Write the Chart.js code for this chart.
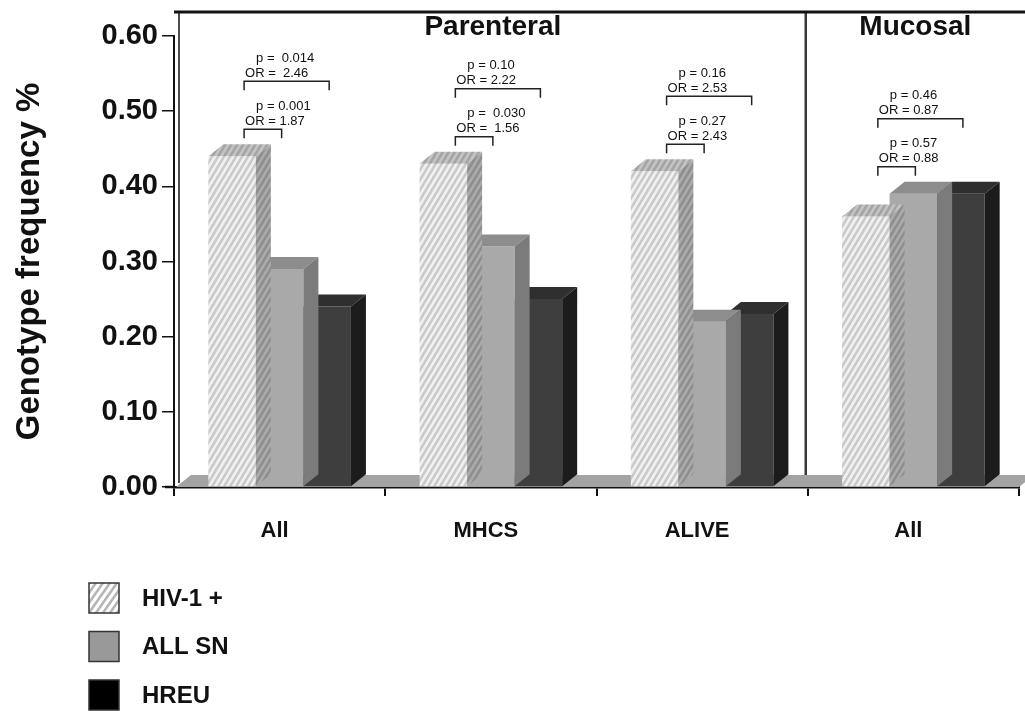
<!DOCTYPE html>
<html>
<head>
<meta charset="utf-8">
<script src="https://cdn.jsdelivr.net/npm/chart.js@4.4.0/dist/chart.umd.min.js"></script>
<style>
    html, body { margin: 0; padding: 0; background: #fff; }
    #wrap { width: 1025px; height: 711px; }
</style>
</head>
<body>
<div id="wrap"><canvas id="genotypeChart" width="1025" height="711"></canvas></div>
<script>
const categories = ['All', 'MHCS', 'ALIVE', 'All'];
const seriesNames = ['HIV-1 +', 'ALL SN', 'HREU'];
const hivPositive = [0.44, 0.43, 0.42, 0.36];
const allSn = [0.29, 0.32, 0.22, 0.39];
const hreu = [0.24, 0.25, 0.23, 0.39];
const yTicks = [0, 0.1, 0.2, 0.3, 0.4, 0.5, 0.6];

// panel name, first category, last category
const panels = [['Parenteral', 0, 2], ['Mucosal', 3, 3]];

// category, from series, to series, p, OR
const nearComparisons = [
    [0, 0, 1, 'p = 0.001', 'OR = 1.87'],
    [1, 0, 1, 'p =  0.030', 'OR =  1.56'],
    [2, 0, 1, 'p = 0.27', 'OR = 2.43'],
    [3, 0, 1, 'p = 0.57', 'OR = 0.88']
];
const farComparisons = [
    [0, 0, 2, 'p =  0.014', 'OR =  2.46'],
    [1, 0, 2, 'p = 0.10', 'OR = 2.22'],
    [2, 0, 2, 'p = 0.16', 'OR = 2.53'],
    [3, 0, 2, 'p = 0.46', 'OR = 0.87']
];

const FONT = '"Liberation Sans", Arial, sans-serif';
Chart.defaults.font.family = FONT;
Chart.defaults.color = '#111';

const DX = 15, DY = 12;

const canvas = document.getElementById('genotypeChart');
const ctx = canvas.getContext('2d');

function hatch(bg, line, w, h, lw) {
    const c = document.createElement('canvas');
    c.width = w; c.height = h;
    const g = c.getContext('2d');
    g.fillStyle = bg;
    g.fillRect(0, 0, w, h);
    g.strokeStyle = line;
    g.lineWidth = lw;
    g.beginPath();
    for (let n = 0; n <= 2; n++) {
        g.moveTo(-w, n * h + h);
        g.lineTo(2 * w, n * h - 2 * h);
    }
    g.stroke();
    return ctx.createPattern(c, 'repeat');
}

const faces = [
    { front: hatch('#f1f1f1', '#c9c9c9', 6, 10, 2.5), top: hatch('#c4c4c4', '#a4a4a4', 6, 10, 2.5), side: hatch('#ababab', '#8e8e8e', 6, 10, 2.5) },
    { front: '#a9a9a9', top: '#8d8d8d', side: '#7b7b7b' },
    { front: '#3e3e3e', top: '#2f2f2f', side: '#1c1c1c' }
];

function poly(c, pts, fill) {
    c.beginPath();
    c.moveTo(pts[0][0], pts[0][1]);
    for (let i = 1; i < pts.length; i++) c.lineTo(pts[i][0], pts[i][1]);
    c.closePath();
    c.fillStyle = fill;
    c.fill();
}

function barAt(chart, cat, series) {
    return chart.getDatasetMeta(series).data[cat].getProps(['x', 'y', 'base', 'width'], true);
}

const bars3d = {
    id: 'bars3d',
    beforeDatasetsDraw(chart) {
        const { left, right, bottom } = chart.chartArea;
        const c = chart.ctx;
        // floor
        poly(c, [[left + 2, bottom], [right, bottom], [right + DX, bottom - DY], [left + 2 + DX, bottom - DY]], '#a3a3a3');
        // divider between panels
        const xs = chart.scales.x;
        const split = (xs.getPixelForValue(2) + xs.getPixelForValue(3)) / 2 - 2;
        c.save();
        c.strokeStyle = '#3a3a3a';
        c.lineWidth = 2.5;
        c.beginPath();
        c.moveTo(split, 12);
        c.lineTo(split, bottom - DY);
        c.stroke();
        c.restore();
    },
    afterDatasetDraw(chart, args) {
        const c = chart.ctx;
        const f = faces[args.index];
        args.meta.data.forEach(bar => {
            const { x, y, base, width } = bar.getProps(['x', 'y', 'base', 'width'], true);
            const l = x - width / 2, r = x + width / 2;
            poly(c, [[l, y], [r, y], [r + DX, y - DY], [l + DX, y - DY]], f.top);
            poly(c, [[r, y], [r + DX, y - DY], [r + DX, base - DY], [r, base]], f.side);
        });
    },
    afterDraw(chart) {
        const c = chart.ctx;
        const { left, bottom } = chart.chartArea;
        const xs = chart.scales.x;
        c.save();
        // frame
        c.strokeStyle = '#111';
        c.lineWidth = 3;
        c.beginPath();
        c.moveTo(left, 12);
        c.lineTo(1025, 12);
        c.stroke();
        c.lineWidth = 1.5;
        c.beginPath();
        c.moveTo(left + 5, 12);
        c.lineTo(left + 5, bottom - 4);
        c.stroke();
        c.lineWidth = 2.5;
        c.beginPath();
        c.moveTo(left - 9, bottom);
        c.lineTo(left, bottom);
        c.stroke();

        // panel titles
        c.fillStyle = '#111';
        c.font = 'bold 28px ' + FONT;
        c.textAlign = 'center';
        c.textBaseline = 'middle';
        panels.forEach(([name, a, b]) => {
            c.fillText(name, (xs.getPixelForValue(a) + xs.getPixelForValue(b)) / 2 + 2, 27);
        });

        // comparison brackets
        c.font = '13px ' + FONT;
        c.textAlign = 'left';
        c.strokeStyle = '#222';
        c.lineWidth = 1.5;
        const drawBracket = (cmp, lift) => {
            const [cat, s0, s1, p, or] = cmp;
            const b0 = barAt(chart, cat, s0), b1 = barAt(chart, cat, s1);
            let topY = Infinity;
            for (let s = s0; s <= Math.min(s0 + 1, s1); s++) topY = Math.min(topY, barAt(chart, cat, s).y);
            const yb = topY - DY - 15 - lift;
            const x0 = b0.x + 12, x1 = b1.x + 2;
            c.beginPath();
            c.moveTo(x0, yb + 9);
            c.lineTo(x0, yb);
            c.lineTo(x1, yb);
            c.lineTo(x1, yb + 9);
            c.stroke();
            c.fillText(or, x0 + 1, yb - 8);
            c.fillText(p, x0 + 12, yb - 23);
        };
        nearComparisons.forEach(cmp => drawBracket(cmp, 0));
        farComparisons.forEach(cmp => drawBracket(cmp, 48));

        // legend
        c.font = 'bold 24px ' + FONT;
        c.textBaseline = 'middle';
        chart.data.datasets.forEach((ds, i) => {
            const cy = 598 + i * 48.5;
            c.fillStyle = i === 0 ? hatch('#ffffff', '#b5b5b5', 7, 10, 2.5) : (i === 1 ? '#999999' : '#000000');
            c.fillRect(89, cy - 15, 30, 30);
            c.strokeStyle = '#333';
            c.lineWidth = 1.5;
            c.strokeRect(89, cy - 15, 30, 30);
            c.fillStyle = '#111';
            c.fillText(ds.label, 142, cy + 1);
        });
        c.restore();
    }
};

new Chart(ctx, {
    type: 'bar',
    data: {
        labels: categories,
        datasets: [
            { label: seriesNames[0], data: hivPositive, backgroundColor: faces[0].front },
            { label: seriesNames[1], data: allSn, backgroundColor: faces[1].front },
            { label: seriesNames[2], data: hreu, backgroundColor: faces[2].front }
        ]
    },
    options: {
        responsive: false,
        animation: false,
        events: [],
        layout: { padding: { top: 36, right: 6, bottom: 164, left: 0 } },
        datasets: { bar: { barPercentage: 1, categoryPercentage: 0.675, borderWidth: 0 } },
        plugins: { legend: { display: false }, tooltip: { enabled: false } },
        scales: {
            x: {
                afterFit(scale) { scale.height = 60; },
                grid: { display: true, drawOnChartArea: false, offset: true, tickLength: 9, color: '#111', lineWidth: 2 },
                border: { color: '#111', width: 2.5 },
                ticks: { font: { size: 22, weight: 'bold' }, color: '#111', padding: 22, labelOffset: -5 }
            },
            y: {
                min: 0,
                max: 0.6,
                afterFit(scale) { scale.width = 174; },
                afterBuildTicks(scale) { scale.ticks = yTicks.map(v => ({ value: v })); },
                grid: { display: true, drawOnChartArea: false, tickLength: 12, color: '#111', lineWidth: 1.5 },
                border: { color: '#111', width: 2 },
                ticks: { font: { size: 29, weight: 'bold' }, color: '#111', padding: 4, callback: v => v.toFixed(2) },
                title: { display: true, text: 'Genotype frequency %', font: { size: 33, weight: 'bold' }, color: '#111', padding: { top: 10, bottom: 0 } }
            }
        }
    },
    plugins: [bars3d]
});
</script>
</body>
</html>
